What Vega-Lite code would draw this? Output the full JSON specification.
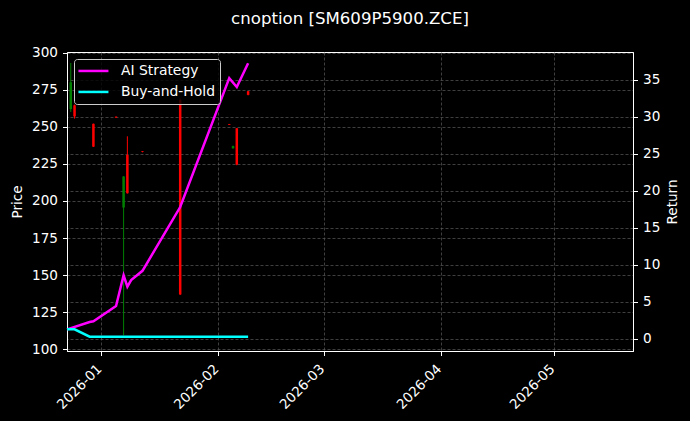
{
  "$schema": "https://vega.github.io/schema/vega-lite/v6.json",
  "title": {
    "text": "cnoption [SM609P5900.ZCE]",
    "anchor": "middle",
    "baseline": "alphabetic",
    "offset": 5,
    "font": "DejaVu Sans",
    "fontSize": 16.6,
    "fontWeight": "normal",
    "color": "#ffffff"
  },
  "width": 566,
  "height": 299,
  "autosize": {"type": "none"},
  "padding": {"left": 67, "top": 52, "right": 57, "bottom": 70},
  "background": "#000000",
  "layer": [
    {
      "data": {
        "values": [
          {"date": "2025-12-24", "open": 262, "high": 293, "low": 260, "close": 280},
          {"date": "2025-12-25", "open": 264.5, "high": 265, "low": 255.5, "close": 257},
          {"date": "2025-12-30", "open": 252, "high": 252.2, "low": 236.4, "close": 236.6},
          {"date": "2026-01-05", "open": 256.8, "high": 257, "low": 256, "close": 256.2},
          {"date": "2026-01-07", "open": 195.6, "high": 216.7, "low": 109.5, "close": 216.5},
          {"date": "2026-01-08", "open": 231, "high": 243.6, "low": 205, "close": 205.2},
          {"date": "2026-01-12", "open": 233.5, "high": 233.6, "low": 232.8, "close": 233},
          {"date": "2026-01-22", "open": 268, "high": 269, "low": 136.6, "close": 137},
          {"date": "2026-02-04", "open": 251.8, "high": 251.9, "low": 251.2, "close": 251.3},
          {"date": "2026-02-05", "open": 235.5, "high": 237.3, "low": 235.3, "close": 237},
          {"date": "2026-02-06", "open": 249, "high": 249.2, "low": 224.1, "close": 224.5},
          {"date": "2026-02-09", "open": 274, "high": 274, "low": 271.2, "close": 271.5}
        ]
      },
      "encoding": {
        "x": {
          "field": "date",
          "type": "temporal",
          "scale": {
            "type": "utc",
            "domain": [
              {"year": 2025, "month": 12, "date": 23, "utc": true},
              {"year": 2026, "month": 5, "date": 22, "utc": true}
            ]
          },
          "axis": {
            "title": null,
            "format": "%Y-%m",
            "values": [
              {"year": 2026, "month": 1, "date": 1, "utc": true},
              {"year": 2026, "month": 2, "date": 1, "utc": true},
              {"year": 2026, "month": 3, "date": 1, "utc": true},
              {"year": 2026, "month": 4, "date": 1, "utc": true},
              {"year": 2026, "month": 5, "date": 1, "utc": true}
            ],
            "labelAngle": -45,
            "labelAlign": "right",
            "labelBaseline": "top",
            "labelPadding": 6,
            "labelOffset": -6.5,
            "grid": true
          }
        },
        "y": {
          "type": "quantitative",
          "scale": {"domain": [98.9, 300.4], "nice": false, "zero": false},
          "axis": {
            "title": "Price",
            "orient": "left",
            "values": [100, 125, 150, 175, 200, 225, 250, 275, 300],
            "grid": true,
            "titlePadding": 7
          }
        },
        "color": {
          "condition": {"test": "datum.close >= datum.open", "value": "#008000"},
          "value": "#ff0000"
        }
      },
      "layer": [
        {
          "mark": {"type": "rule", "strokeWidth": 1},
          "encoding": {
            "y": {"field": "low", "type": "quantitative"},
            "y2": {"field": "high"}
          }
        },
        {
          "mark": {"type": "rule", "strokeWidth": 2.5, "strokeCap": "butt"},
          "encoding": {
            "y": {"field": "open", "type": "quantitative"},
            "y2": {"field": "close"}
          }
        }
      ]
    },
    {
      "data": {
        "values": [
          {"date": "2025-12-23", "series": "AI Strategy", "ret": 1.3},
          {"date": "2025-12-29", "series": "AI Strategy", "ret": 2.3},
          {"date": "2025-12-30", "series": "AI Strategy", "ret": 2.4},
          {"date": "2026-01-05", "series": "AI Strategy", "ret": 4.45},
          {"date": "2026-01-07", "series": "AI Strategy", "ret": 8.6},
          {"date": "2026-01-08", "series": "AI Strategy", "ret": 7.05},
          {"date": "2026-01-09", "series": "AI Strategy", "ret": 7.95},
          {"date": "2026-01-12", "series": "AI Strategy", "ret": 9.2},
          {"date": "2026-01-22", "series": "AI Strategy", "ret": 17.8},
          {"date": "2026-02-04", "series": "AI Strategy", "ret": 35.2},
          {"date": "2026-02-06", "series": "AI Strategy", "ret": 34.0},
          {"date": "2026-02-09", "series": "AI Strategy", "ret": 37.2},
          {"date": "2025-12-23", "series": "Buy-and-Hold", "ret": 1.3},
          {"date": "2025-12-25", "series": "Buy-and-Hold", "ret": 1.3},
          {"date": "2025-12-29", "series": "Buy-and-Hold", "ret": 0.31},
          {"date": "2026-01-22", "series": "Buy-and-Hold", "ret": 0.31},
          {"date": "2026-02-09", "series": "Buy-and-Hold", "ret": 0.31}
        ]
      },
      "mark": {"type": "line", "strokeWidth": 2.5, "strokeJoin": "miter"},
      "encoding": {
        "x": {"field": "date", "type": "temporal"},
        "y": {
          "field": "ret",
          "type": "quantitative",
          "scale": {"domain": [-1.62, 38.72], "nice": false, "zero": false},
          "axis": {
            "title": "Return",
            "orient": "right",
            "values": [0, 5, 10, 15, 20, 25, 30, 35],
            "grid": true,
            "titleAngle": 270,
            "titleBaseline": "top",
            "titlePadding": 6
          }
        },
        "color": {
          "field": "series",
          "type": "nominal",
          "scale": {"domain": ["AI Strategy", "Buy-and-Hold"], "range": ["#ff00ff", "#00ffff"]},
          "legend": {
            "title": null,
            "orient": "top-left",
            "offset": 7,
            "fillColor": "rgba(0,0,0,0.8)",
            "strokeColor": "#cccccc",
            "cornerRadius": 3,
            "padding": 5,
            "labelColor": "#ffffff",
            "labelFont": "DejaVu Sans",
            "labelFontSize": 13.9,
            "labelOffset": 28,
            "symbolType": "M-1.5,0H4.5",
            "symbolSize": 100,
            "symbolStrokeWidth": 2.5,
            "rowPadding": 6
          }
        }
      }
    }
  ],
  "resolve": {"scale": {"y": "independent", "color": "independent"}},
  "config": {
    "view": {"stroke": "#ffffff", "strokeWidth": 1},
    "axis": {
      "domainColor": "#ffffff",
      "tickColor": "#ffffff",
      "tickSize": 4.5,
      "labelColor": "#ffffff",
      "titleColor": "#ffffff",
      "labelFont": "DejaVu Sans",
      "titleFont": "DejaVu Sans",
      "labelFontSize": 13.6,
      "titleFontSize": 13.6,
      "titleFontWeight": "normal",
      "labelPadding": 5,
      "gridColor": "#5a5a5a",
      "gridDash": [3, 2],
      "gridWidth": 0.7
    }
  }
}
